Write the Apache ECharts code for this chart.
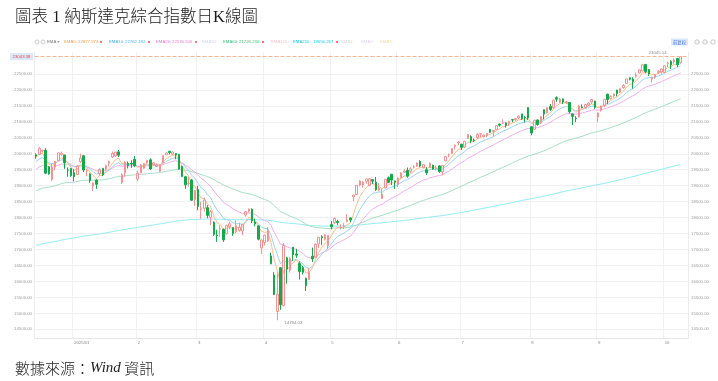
<!DOCTYPE html>
<html><head><meta charset="utf-8">
<script src="https://cdn.jsdelivr.net/npm/echarts@6/dist/echarts.min.js"></script>
<style>html,body{margin:0;padding:0;background:#fff}#c{width:718px;height:381px}</style>
</head><body><div id="c"></div>
<script>
const dates = ['2024-12-13','2024-12-16','2024-12-17','2024-12-18','2024-12-19','2024-12-20','2024-12-23','2024-12-24','2024-12-26','2024-12-27','2024-12-30','2024-12-31',
'2025-01-02','2025-01-03','2025-01-06','2025-01-07','2025-01-08','2025-01-10','2025-01-13','2025-01-14','2025-01-15','2025-01-16','2025-01-17','2025-01-21','2025-01-22','2025-01-23','2025-01-24','2025-01-27','2025-01-28','2025-01-29','2025-01-30','2025-01-31',
'2025-02-03','2025-02-04','2025-02-05','2025-02-06','2025-02-07','2025-02-10','2025-02-11','2025-02-12','2025-02-13','2025-02-14','2025-02-18','2025-02-19','2025-02-20','2025-02-21','2025-02-24','2025-02-25','2025-02-26','2025-02-27','2025-02-28',
'2025-03-03','2025-03-04','2025-03-05','2025-03-06','2025-03-07','2025-03-10','2025-03-11','2025-03-12','2025-03-13','2025-03-14','2025-03-17','2025-03-18','2025-03-19','2025-03-20','2025-03-21','2025-03-24','2025-03-25','2025-03-26','2025-03-27','2025-03-28','2025-03-31',
'2025-04-01','2025-04-02','2025-04-03','2025-04-04','2025-04-07','2025-04-08','2025-04-09','2025-04-10','2025-04-11','2025-04-14','2025-04-15','2025-04-16','2025-04-17','2025-04-21','2025-04-22','2025-04-23','2025-04-24','2025-04-25','2025-04-28','2025-04-29','2025-04-30',
'2025-05-01','2025-05-02','2025-05-05','2025-05-06','2025-05-07','2025-05-08','2025-05-09','2025-05-12','2025-05-13','2025-05-14','2025-05-15','2025-05-16','2025-05-19','2025-05-20','2025-05-21','2025-05-22','2025-05-23','2025-05-27','2025-05-28','2025-05-29','2025-05-30',
'2025-06-02','2025-06-03','2025-06-04','2025-06-05','2025-06-06','2025-06-09','2025-06-10','2025-06-11','2025-06-12','2025-06-13','2025-06-16','2025-06-17','2025-06-18','2025-06-20','2025-06-23','2025-06-24','2025-06-25','2025-06-26','2025-06-27','2025-06-30',
'2025-07-01','2025-07-02','2025-07-03','2025-07-07','2025-07-08','2025-07-09','2025-07-10','2025-07-11','2025-07-14','2025-07-15','2025-07-16','2025-07-17','2025-07-18','2025-07-21','2025-07-22','2025-07-23','2025-07-24','2025-07-25','2025-07-28','2025-07-29','2025-07-30','2025-07-31',
'2025-08-01','2025-08-04','2025-08-05','2025-08-06','2025-08-07','2025-08-08','2025-08-11','2025-08-12','2025-08-13','2025-08-14','2025-08-15','2025-08-18','2025-08-19','2025-08-20','2025-08-21','2025-08-22','2025-08-25','2025-08-26','2025-08-27','2025-08-28','2025-08-29',
'2025-09-02','2025-09-03','2025-09-04','2025-09-05','2025-09-08','2025-09-09','2025-09-10','2025-09-11','2025-09-12','2025-09-15','2025-09-16','2025-09-17','2025-09-18','2025-09-19','2025-09-22','2025-09-23','2025-09-24','2025-09-25','2025-09-26','2025-09-29','2025-09-30',
'2025-10-01','2025-10-02','2025-10-03','2025-10-06','2025-10-07','2025-10-08'];

const opens = [19970,19980,20085,20110,19590,19200,19580,19790,19980,19960,
19490,19540,19405,19350,19750,19940,19470,19370,18990,19180,
19380,19540,19520,19700,19900,19930,20060,19100,19400,19700,
19700,19830,19210,19400,19550,19730,19810,19650,19600,19450,
19710,19970,20080,19990,20010,19980,19600,19280,19070,19180,
18560,18880,18250,18290,18310,18010,17860,17450,17640,17630,
17490,17710,17690,17560,17590,17580,18080,18200,18260,17860,
17740,17050,17220,17270,16800,16200,15060,16430,15240,16740,
16350,17070,16860,16560,16430,16100,16060,16790,16760,17180,
17400,17320,17120,17780,17850,17880,17680,17730,17880,17990,
18650,18720,19020,19020,19140,19000,19190,19110,18860,18600,
18930,19250,19360,19150,19040,19250,19420,19480,19450,19580,
19620,19760,19560,19500,19570,19640,19530,19620,19430,19780,
19960,20010,20230,20340,20300,20210,20480,20540,20430,20500,
20620,20540,20580,20760,20700,20760,20930,20950,20970,20950,
21070,21070,21120,21250,21140,21450,20850,20770,21060,20960,
21380,21280,21480,21440,21760,21620,21720,21600,21610,21250,
21120,21150,21470,21450,21530,21620,21650,21150,21360,21510,
21870,21740,21810,22000,21930,22070,22210,22380,22340,22430,
22530,22600,22800,22640,22340,22400,22550,22560,22550,22830,
22900,22880,22990,22850];

const closes = [19926.72,20173.89,20109.06,19392.69,19372.77,19572.60,19764.89,20031.13,20020.36,19722.03,
19486.79,19310.79,19280.79,19621.68,19864.98,19489.68,19478.88,19161.63,19088.10,19044.39,
19511.23,19338.29,19630.20,19756.78,20009.34,20053.68,19954.30,19341.83,19733.59,19632.32,
19681.75,19627.44,19391.96,19654.02,19692.33,19791.99,19523.40,19714.27,19643.86,19649.95,
19945.64,20026.77,20041.26,20056.25,19962.36,19524.01,19286.92,19026.39,19075.26,18544.42,
18847.28,18350.19,18285.16,18552.73,18069.26,18196.22,17468.32,17436.10,17648.45,17303.01,
17754.09,17808.66,17504.12,17750.79,17691.63,17784.05,18188.59,18271.86,17899.02,17804.03,
17322.99,17299.29,17449.89,17601.05,16550.61,15587.79,15603.26,15267.91,17124.97,16387.31,
16724.46,16831.48,16823.17,16307.16,16286.45,15870.90,16300.42,16708.05,17166.04,17382.94,
17366.13,17461.32,17446.34,17710.74,17977.73,17844.24,17689.66,17738.16,17928.14,17928.92,
18708.34,19010.09,19146.81,19112.32,19211.10,19215.46,19142.71,18872.64,18925.73,18737.21,
19199.16,19100.94,19175.87,19113.77,19242.61,19398.96,19460.49,19298.45,19529.95,19591.24,
19714.99,19615.88,19662.49,19406.83,19701.21,19521.09,19546.27,19447.41,19630.97,19912.53,
19973.55,20167.91,20273.46,20369.73,20202.89,20393.13,20601.10,20412.52,20418.46,20611.34,
20630.67,20585.53,20640.33,20677.80,20730.49,20885.65,20895.66,20974.17,20892.69,21020.02,
21057.96,21108.32,21178.58,21098.29,21129.67,21122.45,20650.13,21053.58,20916.55,21169.42,
21242.70,21450.02,21385.40,21681.90,21713.14,21710.67,21622.98,21629.77,21314.95,21172.86,
21100.31,21496.54,21449.29,21544.27,21590.14,21705.16,21455.55,21279.63,21497.73,21707.69,
21700.39,21798.70,21879.49,21886.06,22043.07,22141.10,22348.75,22333.96,22261.33,22470.73,
22631.48,22788.98,22573.47,22497.86,22384.70,22484.07,22591.15,22660.01,22755.16,22844.05,
22780.51,22941.67,22788.36,23043.38];

const lows = [19845,19960,20040,19361,19340,19140,19480,19780,19940,19530,
19280,19280,19140,19340,19710,19430,19300,19090,18830,18900,
19320,19300,19470,19600,19870,19900,19900,19050,19280,19540,
19560,19580,19140,19390,19520,19690,19490,19640,19590,19430,
19690,19960,19980,19950,19830,19500,19270,18900,18970,18530,
18370,18230,17960,18190,17980,17770,17430,17240,17400,17240,
17480,17640,17430,17510,17560,17450,18030,18160,17830,17730,
17290,16860,17130,17230,16540,15575,14784.03,15110,15220,15930,
16280,16640,16740,16060,16220,15700,16060,16610,16750,17050,
17150,17280,17010,17630,17800,17770,17630,17640,17850,17860,
18520,18710,18980,18940,19060,18990,19050,18840,18830,18580,
18920,19080,19020,18900,18960,19220,19400,19250,19400,19540,
19590,19580,19550,19340,19560,19500,19480,19400,19330,19760,
19890,19990,20130,20270,20120,20190,20470,20330,20370,20470,
20510,20510,20520,20660,20540,20760,20850,20940,20820,20880,
20990,21030,21090,21060,20980,21060,20580,20750,20880,20930,
21080,21270,21340,21410,21630,21590,21560,21560,21260,20900,
20990,21140,21420,21410,21490,21560,21410,20990,21320,21460,
21560,21700,21760,21800,21900,22040,22190,22300,22040,22380,
22520,22580,22520,22440,22240,22350,22500,22510,22530,22720,
22660,22820,22720,22830];

const highs = [20013,20204,20129,20175,19620,19700,19770,20032,20070,19970,
19570,19560,19520,19640,20007,19960,19520,19390,19100,19200,
19550,19560,19660,19790,20068,20060,20120,19390,19770,19760,
19800,19930,19470,19680,19700,19810,19860,19740,19700,19660,
19950,20045,20090,20070,20020,20000,19630,19300,19280,19210,
18850,19000,18500,18630,18390,18230,17880,17620,17760,17660,
17780,17870,17690,17910,17840,17790,18200,18280,18290,17970,
17760,17320,17470,17700,16900,16290,16292,16440,17200,16770,
16760,17080,17020,16630,16490,16120,16420,17060,17190,17390,
17450,17480,17450,17890,18010,17930,17790,17830,18110,18010,
18710,19020,19170,19140,19220,19230,19210,19270,19080,18900,
19210,19290,19370,19160,19250,19430,19510,19570,19580,19640,
19730,19800,19680,19580,19730,19660,19630,19640,19640,19920,
20010,20170,20290,20400,20310,20400,20620,20580,20480,20640,
20650,20610,20650,20780,20750,20900,20950,21080,20980,21030,
21090,21110,21200,21250,21180,21460,20850,21060,21080,21180,
21390,21460,21560,21690,21800,21750,21730,21660,21620,21260,
21180,21540,21550,21560,21620,21720,21660,21290,21510,21710,
21880,21830,21890,22000,22050,22180,22350,22390,22400,22550,
22640,22800,22810,22650,22420,22500,22620,22670,22760,22890,
22930,22990,23000,23045.14];

const ema5 = [19890,19985,20026,19815,19668,19636,19679,19796,19871,19821,
19710,19577,19478,19526,19639,19589,19552,19422,19311,19222,
19318,19325,19427,19537,19694,19814,19861,19688,19703,19679,
19680,19662,19572,19599,19630,19684,19630,19658,19653,19652,
19750,19842,19908,19957,19959,19814,19638,19434,19314,19057,
18987,18775,18612,18592,18418,18344,18052,17847,17781,17622,
17666,17714,17644,17680,17684,17717,17874,18007,17971,17915,
17718,17578,17535,17557,17222,16677,16319,15969,16354,16365,
16485,16600,16674,16552,16463,16266,16277,16421,16669,16907,
17060,17194,17278,17422,17607,17686,17687,17704,17779,17829,
18122,18418,18661,18811,18944,19034,19070,19004,18978,18898,
18998,19032,19080,19091,19142,19228,19305,19303,19379,19450,
19538,19564,19597,19534,19590,19567,19560,19522,19558,19676,
19775,19906,20028,20142,20162,20239,20360,20378,20391,20464,
20520,20542,20575,20609,20649,20728,20784,20847,20862,20915,
20963,21011,21067,21077,21095,21104,20953,20987,20964,21032,
21102,21218,21274,21410,21511,21578,21593,21605,21508,21396,
21297,21364,21392,21443,21492,21563,21527,21445,21463,21545,
21597,21664,21736,21786,21872,21962,22091,22172,22202,22292,
22405,22533,22546,22530,22482,22483,22519,22566,22629,22701,
22728,22799,22795,22878];

const ema10 = [19760,19835,19885,19795,19718,19692,19705,19764,19811,19795,
19739,19661,19592,19597,19646,19618,19593,19515,19437,19365,
19392,19382,19427,19487,19582,19668,19720,19651,19666,19660,
19664,19657,19609,19617,19631,19660,19635,19649,19648,19648,
19702,19761,19812,19856,19875,19811,19716,19590,19496,19323,
19236,19075,18931,18862,18718,18623,18413,18235,18128,17978,
17937,17914,17839,17823,17799,17796,17868,17942,17934,17910,
17803,17711,17663,17652,17452,17113,16838,16552,16656,16607,
16628,16665,16694,16624,16562,16436,16411,16465,16593,16737,
16851,16962,17050,17170,17317,17413,17463,17513,17589,17651,
17843,18055,18254,18410,18556,18676,18761,18781,18807,18794,
18868,18910,18958,18986,19033,19100,19166,19190,19252,19314,
19387,19429,19471,19459,19503,19506,19513,19501,19525,19596,
19665,19757,19851,19945,19992,20065,20163,20209,20247,20313,
20371,20410,20452,20493,20536,20600,20654,20712,20745,20795,
20843,20891,20943,20971,21000,21022,20954,20972,20962,21000,
21044,21118,21167,21261,21343,21410,21449,21482,21452,21401,
21346,21373,21387,21416,21448,21495,21488,21450,21459,21504,
21540,21587,21640,21685,21750,21821,21917,21993,22042,22120,
22213,22318,22364,22388,22387,22405,22439,22479,22529,22586,
22621,22679,22699,22762];

const ema20 = [19520,19582,19632,19609,19587,19586,19603,19644,19680,19684,
19665,19631,19598,19600,19625,19612,19599,19557,19512,19467,
19471,19458,19474,19501,19549,19597,19631,19603,19615,19617,
19623,19623,19601,19606,19614,19631,19621,19630,19631,19633,
19663,19698,19731,19762,19781,19757,19712,19647,19593,19493,
19432,19329,19230,19166,19062,18980,18836,18703,18603,18479,
18410,18353,18272,18222,18172,18135,18140,18153,18129,18098,
18024,17955,17907,17878,17752,17546,17361,17162,17158,17085,
17051,17030,17010,16943,16880,16784,16738,16735,16776,16834,
16885,16940,16988,17057,17145,17212,17258,17304,17363,17417,
17540,17680,17820,17943,18064,18174,18266,18324,18381,18415,
18490,18548,18608,18656,18712,18777,18842,18885,18946,19007,
19074,19126,19177,19199,19247,19273,19299,19313,19343,19397,
19452,19520,19592,19666,19717,19781,19859,19912,19960,20022,
20080,20128,20177,20225,20273,20331,20385,20441,20484,20535,
20585,20635,20687,20726,20764,20798,20784,20810,20820,20853,
20890,20943,20985,21051,21114,21171,21214,21254,21260,21252,
21238,21263,21281,21306,21333,21368,21376,21367,21379,21410,
21438,21472,21511,21547,21594,21646,21713,21772,21819,21881,
21952,22032,22084,22123,22148,22180,22219,22261,22308,22359,
22399,22451,22483,22536];

const ema60 = [18840,18884,18924,18939,18953,18973,18999,19033,19065,19087,
19100,19107,19113,19130,19154,19165,19175,19175,19172,19168,
19179,19184,19199,19217,19243,19270,19292,19294,19308,19319,
19331,19341,19343,19353,19364,19378,19383,19394,19402,19410,
19428,19448,19467,19486,19502,19503,19496,19481,19468,19438,
19419,19384,19348,19322,19281,19245,19187,19130,19081,19023,
18981,18943,18896,18858,18820,18786,18766,18750,18722,18692,
18647,18603,18565,18533,18468,18374,18283,18184,18149,18091,
18046,18006,17967,17913,17860,17795,17746,17712,17694,17684,
17674,17667,17660,17662,17672,17678,17678,17680,17688,17696,
17729,17771,17816,17859,17903,17946,17985,18014,18044,18067,
18104,18137,18171,18202,18236,18274,18313,18345,18384,18424,
18466,18504,18542,18570,18607,18637,18667,18693,18724,18763,
18803,18848,18895,18943,18984,19030,19082,19126,19168,19215,
19261,19304,19348,19392,19436,19484,19530,19577,19620,19666,
19712,19758,19805,19847,19889,19929,19953,19989,20019,20057,
20096,20140,20181,20230,20279,20326,20369,20410,20440,20464,
20485,20518,20549,20582,20615,20651,20677,20697,20723,20755,
20786,20819,20854,20888,20926,20966,21011,21054,21094,21139,
21188,21241,21285,21325,21360,21397,21436,21476,21518,21561,
21601,21645,21682,21727];

const ema250 = [17130,17154,17178,17196,17213,17232,17252,17274,17296,17315,
17332,17348,17363,17381,17401,17418,17434,17448,17461,17474,
17490,17505,17522,17540,17560,17580,17599,17613,17630,17646,
17662,17678,17692,17708,17724,17741,17755,17771,17786,17801,
17818,17836,17854,17872,17889,17902,17913,17922,17931,17936,
17943,17946,17949,17954,17955,17957,17953,17949,17947,17942,
17940,17939,17936,17935,17933,17932,17934,17937,17937,17936,
17931,17926,17922,17919,17908,17889,17871,17850,17844,17832,
17823,17815,17807,17795,17783,17768,17756,17748,17743,17740,
17737,17735,17733,17733,17735,17736,17736,17736,17738,17740,
17748,17758,17769,17780,17791,17802,17813,17821,17830,17837,
17848,17858,17869,17879,17890,17902,17914,17925,17938,17951,
17965,17978,17991,18002,18016,18028,18040,18051,18064,18079,
18094,18111,18128,18146,18162,18180,18199,18217,18235,18254,
18273,18292,18311,18330,18349,18369,18389,18410,18430,18451,
18472,18493,18514,18535,18556,18577,18594,18614,18632,18652,
18673,18695,18717,18741,18765,18789,18812,18835,18855,18874,
18892,18913,18933,18954,18975,18997,19017,19035,19055,19076,
19097,19119,19141,19163,19186,19210,19235,19260,19284,19309,
19336,19364,19390,19415,19439,19463,19488,19513,19539,19565,
19591,19618,19643,19656];

const yTicks = [14500,15000,15500,16000,16500,17000,17500,18000,18500,19000,19500,20000,20500,21000,21500,22000,22500];
const monthStarts = ['2025-01-02','2025-02-03','2025-03-03','2025-04-01','2025-05-01','2025-06-02','2025-07-01','2025-08-01','2025-09-02','2025-10-01'];
const monthLabels = ['2025/01','2','3','4','5','6','7','8','9','10'];
const legendNames = ['EMA5:','EMA10:','EMA20:','EMA30:','EMA60:','EMA120:','EMA250:','EMA1:','EMA2:','EMA3:'];
const legendValues = ['22877.974','22762.182','22536.506','','21726.236','','19656.267','','',''];
const lastClose = 23043.38;

// ---- layout / style (not data) ----
const FS = 4.3;
const legendNameX = [64,109,156,202,223,271,293,341,361,380];
const legendValX  = [78,125,172,null,239,null,313,null,null,null];
const legendDotX  = [101,149,196,null,263,null,337,null,null,null];
const legendColors = ['#f6a04a','#4cb2ea','#e07ad6','#cfd6f3','#3fbd78','#f6c6d0','#26c4e2','#d9d9d9','#dccff2','#f2e0a6'];
const LY = 42;

const graphic = [];
graphic.push({type:'circle', shape:{cx:37, cy:LY, r:2}, style:{fill:'none', stroke:'#b8b8b8', lineWidth:0.7}});
graphic.push({type:'circle', shape:{cx:43, cy:LY, r:2}, style:{fill:'none', stroke:'#b8b8b8', lineWidth:0.7}});
graphic.push({type:'text', x:47, y:LY, style:{text:'EMA', fill:'#777', font:FS+'px sans-serif', verticalAlign:'middle'}});
graphic.push({type:'polygon', shape:{points:[[57,LY-1],[60,LY-1],[58.5,LY+1]]}, style:{fill:'#aaa'}});
legendNames.forEach((n,i)=>{
  graphic.push({type:'text', x:legendNameX[i], y:LY, style:{text:n, fill:legendColors[i], font:FS+'px sans-serif', verticalAlign:'middle'}});
  if (legendValX[i] != null) {
    graphic.push({type:'text', x:legendValX[i], y:LY, style:{text:legendValues[i], fill:legendColors[i], font:FS+'px sans-serif', verticalAlign:'middle'}});
    graphic.push({type:'circle', shape:{cx:legendDotX[i], cy:LY, r:0.9}, style:{fill:'#e83a3a'}});
  }
});
graphic.push({type:'rect', shape:{x:671, y:LY-3.5, width:17, height:7}, style:{fill:'#dce8fb'}});
graphic.push({type:'text', x:679.5, y:LY, style:{text:'前复权', fill:'#3d7be0', font:FS+'px "Noto Sans CJK SC"', align:'center', verticalAlign:'middle'}});
[697,705,713].forEach(cx=>graphic.push({type:'circle', shape:{cx:cx, cy:LY, r:2.2}, style:{fill:'none', stroke:'#b0b0b0', lineWidth:0.7}}));

const kData = dates.map((d,i)=>[opens[i], closes[i], lows[i], highs[i]]);
const isMonth = (i, v) => monthStarts.indexOf(v) >= 0;

const lineS = (name, data, color) => ({name, type:'line', data, showSymbol:false, symbol:'none', silent:true,
  lineStyle:{width:1, color}, itemStyle:{color}, z:2});

const yBase = {type:'value', min:14227, max:23190, scale:true,
  axisLine:{show:true, lineStyle:{color:'#ececec'}},
  axisTick:{show:false, customValues:yTicks},
  axisLabel:{customValues:yTicks, formatter:v=>Number(v).toFixed(2), fontSize:FS, color:'#9a9a9a'}};

const priceLabel = {show:true, formatter:lastClose.toFixed(2), fontSize:FS, color:'#e0524f',
  backgroundColor:'#dbe8f8', padding:[1.5,2.5], distance:1.5};

const option = {
  animation:false,
  backgroundColor:'#ffffff',
  title:[
    {text:'圖表 1 納斯達克綜合指數日K線圖', left:10, top:4,
     textStyle:{fontSize:16.5, fontWeight:300, color:'#1c1c1c', fontFamily:'"Liberation Serif","Noto Sans CJK TC",serif'}},
    {text:'{a|數據來源：}{b|Wind}{a| 資訊}', left:10, top:356,
     textStyle:{fontWeight:'normal', rich:{a:{fontSize:15, fontWeight:300, fontFamily:'"Noto Sans CJK TC"', color:'#222'},
                      b:{fontSize:15, fontStyle:'italic', fontWeight:'normal', fontFamily:'"Liberation Serif"', color:'#222'}}}}
  ],
  graphic,
  grid:{left:34.5, right:29.5, top:52, bottom:43},
  xAxis:{type:'category', data:dates, max:dates.length+1, boundaryGap:true,
    axisLine:{show:true, lineStyle:{color:'#e6e6e6'}}, axisTick:{show:false},
    axisLabel:{interval:isMonth, formatter:v=>{const k=monthStarts.indexOf(v); return k>=0?monthLabels[k]:'';},
      fontSize:FS, color:'#8a8a8a', align:'left', margin:3},
    splitLine:{show:true, interval:isMonth, lineStyle:{color:'#f0f0f0', width:1}}},
  yAxis:[
    Object.assign({}, yBase, {position:'left', axisLabel:Object.assign({}, yBase.axisLabel, {margin:2.5}),
      splitLine:{show:true, lineStyle:{color:'#f0f0f0'}}}),
    Object.assign({}, yBase, {position:'right', axisLabel:Object.assign({}, yBase.axisLabel, {margin:2.5}),
      splitLine:{show:false}})
  ],
  series:[
    lineS('EMA250', ema250, '#93ecf4'),
    lineS('EMA60', ema60, '#a6dfc4'),
    lineS('EMA20', ema20, '#efb0ec'),
    lineS('EMA10', ema10, '#9dd3f2'),
    lineS('EMA5', ema5, '#f8c08e'),
    {name:'K', type:'candlestick', data:kData, barWidth:2, z:3,
     itemStyle:{color:'rgba(255,255,255,0)', color0:'#16a94a', borderColor:'#f09393', borderColor0:'#16a94a', borderWidth:1},
     markLine:{symbol:['none','none'], silent:true, animation:false,
       data:[
         {yAxis:lastClose, lineStyle:{type:'dashed', color:'#f6b48e', width:1}, label:Object.assign({}, priceLabel, {position:'start'})},
         {yAxis:lastClose, lineStyle:{opacity:0}, label:Object.assign({}, priceLabel, {position:'end'})}
       ]},
     markPoint:{symbol:'circle', symbolSize:1, silent:true, itemStyle:{color:'rgba(0,0,0,0)'},
       label:{show:true, fontSize:FS, color:'#8a8a8a', position:'inside', formatter:p=>Number(p.value).toFixed(2)},
       data:[
         {type:'max', valueDim:'highest', label:{offset:[-23,-3.5]}},
         {type:'min', valueDim:'lowest', label:{offset:[16,3]}}
       ]}
    }
  ]
};
const chart = echarts.init(document.getElementById('c'), null, {renderer:'canvas', width:718, height:381});
chart.setOption(option);
</script></body></html>
